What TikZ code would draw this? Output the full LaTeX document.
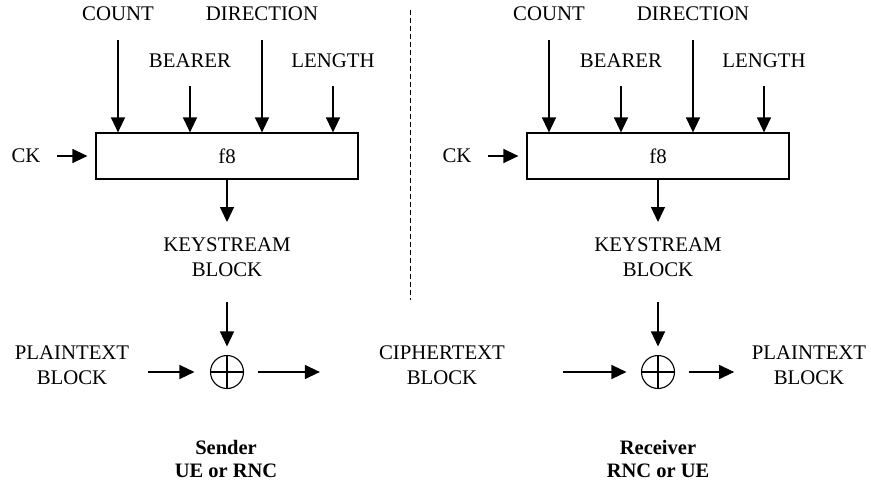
\documentclass[tikz,border=0pt]{standalone}
\usepackage{fontspec}
\setmainfont{Liberation Serif}
\usetikzlibrary{arrows.meta}
\begin{document}
\begin{tikzpicture}[x=1pt,y={(0pt,-1pt)},
  txt/.style={inner sep=0pt, align=center, font=\fontsize{20.8}{25}\selectfont},
  arr/.style={line width=1.3pt, -{Triangle[length=15pt,width=14pt]}},
  fbox/.style={draw, line width=1.2pt, minimum width=262pt, minimum height=46pt, inner sep=0pt, font=\fontsize{20.8}{25}\selectfont},
  xorc/.style={circle, draw, line width=1.1pt, minimum size=33pt, inner sep=0pt},
  sep/.style={line width=1pt, dash pattern=on 5pt off 3pt}
]
\useasboundingbox (0,0) rectangle (871,483);

% ---------- Sender (left) ----------
\node[txt] (countL) at (118,14) {COUNT};
\node[txt] (dirL) at (262,14) {DIRECTION};
\node[txt] (bearL) at (190,61) {BEARER};
\node[txt] (lenL) at (333,61) {LENGTH};
\node[fbox] (f8L) at (227,156) {f8};
\node[txt] (ckL) at (26,156) {CK};
\node[txt] (ksL) at (227,257.5) {KEYSTREAM\\BLOCK};
\node[xorc] (xorL) at (227,372) {};
\node[txt] (ptL) at (72,365.5) {PLAINTEXT\\BLOCK};
\node[txt] (ct) at (442,365.5) {CIPHERTEXT\\BLOCK};
\node[txt, font=\fontsize{20.5}{23}\selectfont\bfseries] (sender) at (226,458.5) {Sender\\UE or RNC};

\draw[arr, shorten <=26pt] (countL.center) -- (countL.center |- f8L.north);
\draw[arr, shorten <=26pt] (dirL.center) -- (dirL.center |- f8L.north);
\draw[arr, shorten <=25pt] (bearL.center) -- (bearL.center |- f8L.north);
\draw[arr, shorten <=25pt] (lenL.center) -- (lenL.center |- f8L.north);
\draw[arr, shorten <=31pt, shorten >=8pt] (ckL.center) -- (f8L.west);
\draw[arr, shorten >=35.5pt] (f8L.south) -- (ksL.center);
\draw[arr, shorten <=44.5pt, shorten >=8.5pt] (ksL.center) -- (xorL.north);
\draw[line width=1.1pt] (xorL.north) -- (xorL.south) (xorL.west) -- (xorL.east);
\draw[arr, shorten <=18.5pt, shorten >=15.5pt] (ptL.east |- xorL.center) -- (xorL.west);
\draw[arr, shorten <=13.5pt, shorten >=59pt] (xorL.east) -- (ct.west |- xorL.center);

% ---------- separator ----------
\coordinate (sepT) at (410.7,10);
\coordinate (sepB) at (410.7,300);
\draw[sep] (sepT) -- (sepB);

% ---------- Receiver (right) ----------
\node[txt] (countR) at (549,14) {COUNT};
\node[txt] (dirR) at (693,14) {DIRECTION};
\node[txt] (bearR) at (621,61) {BEARER};
\node[txt] (lenR) at (764,61) {LENGTH};
\node[fbox] (f8R) at (658,156) {f8};
\node[txt] (ckR) at (457,156) {CK};
\node[txt] (ksR) at (658,257.5) {KEYSTREAM\\BLOCK};
\node[xorc] (xorR) at (658,372) {};
\node[txt] (ptR) at (809,365.5) {PLAINTEXT\\BLOCK};
\node[txt, font=\fontsize{20.5}{23}\selectfont\bfseries] (receiver) at (658,458.5) {Receiver\\RNC or UE};

\draw[arr, shorten <=26pt] (countR.center) -- (countR.center |- f8R.north);
\draw[arr, shorten <=26pt] (dirR.center) -- (dirR.center |- f8R.north);
\draw[arr, shorten <=25pt] (bearR.center) -- (bearR.center |- f8R.north);
\draw[arr, shorten <=25pt] (lenR.center) -- (lenR.center |- f8R.north);
\draw[arr, shorten <=31pt, shorten >=8pt] (ckR.center) -- (f8R.west);
\draw[arr, shorten >=35.5pt] (f8R.south) -- (ksR.center);
\draw[arr, shorten <=44.5pt, shorten >=8.5pt] (ksR.center) -- (xorR.north);
\draw[line width=1.1pt] (xorR.north) -- (xorR.south) (xorR.west) -- (xorR.east);
\draw[arr, shorten <=58pt, shorten >=14.5pt] (ct.east |- xorR.center) -- (xorR.west);
\draw[arr, shorten <=13.5pt, shorten >=17.5pt] (xorR.east) -- (ptR.west |- xorR.center);
\end{tikzpicture}
\end{document}
